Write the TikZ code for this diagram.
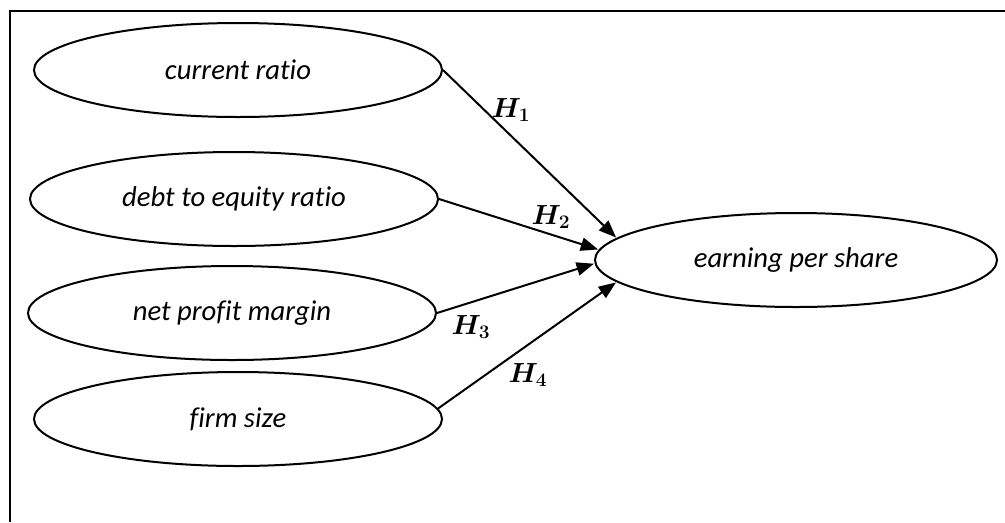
\documentclass[tikz,border=0pt]{standalone}
\usepackage{fontspec}
\setmainfont{Carlito}[Ligatures=NoCommon]
\usetikzlibrary{shapes.geometric,arrows.meta}
\tikzset{
  varbox/.style={ellipse,draw,line width=1.5pt,inner sep=0pt,minimum width=306pt,minimum height=70.5pt,font=\fontsize{21.5}{25}\selectfont\itshape},
  arr/.style={line width=1.5pt,-{Triangle[length=13pt,width=10pt]},shorten >=0.5pt},
  hyp/.style={font=\fontsize{22.5}{26}\selectfont\boldmath,inner sep=0pt},
  frame/.style={line width=1.8pt}
}
\begin{document}
\begin{tikzpicture}[x=0.75pt,y=-0.75pt]
\useasboundingbox (0,0) rectangle (1005,522);
\coordinate (fa) at (10,522);
\coordinate (fb) at (10,11);
\coordinate (fc) at (1005,11);
\draw[frame] (fa) -- (fb) -- (fc);
\node[varbox] (cr) at (238,70) {current ratio};
\node[varbox] (dte) at (234,199) {debt to equity ratio};
\node[varbox] (npm) at (232,313) {net profit margin};
\node[varbox] (fs) at (238,419) {firm size};
\node[varbox,minimum width=301.5pt] (eps) at (796,260) {earning per share};
\draw[arr] (cr.east) -- (eps.173);
\draw[arr] (dte.east) -- (eps.177);
\draw[arr] (npm.east) -- (eps.181.5);
\draw[arr] (fs.3) -- (eps.187);
\node[hyp] (h1) at (511,110) {$H_1$};
\node[hyp] (h2) at (551,217) {$H_2$};
\node[hyp] (h3) at (471,327) {$H_3$};
\node[hyp] (h4) at (528,375) {$H_4$};
\end{tikzpicture}
\end{document}
